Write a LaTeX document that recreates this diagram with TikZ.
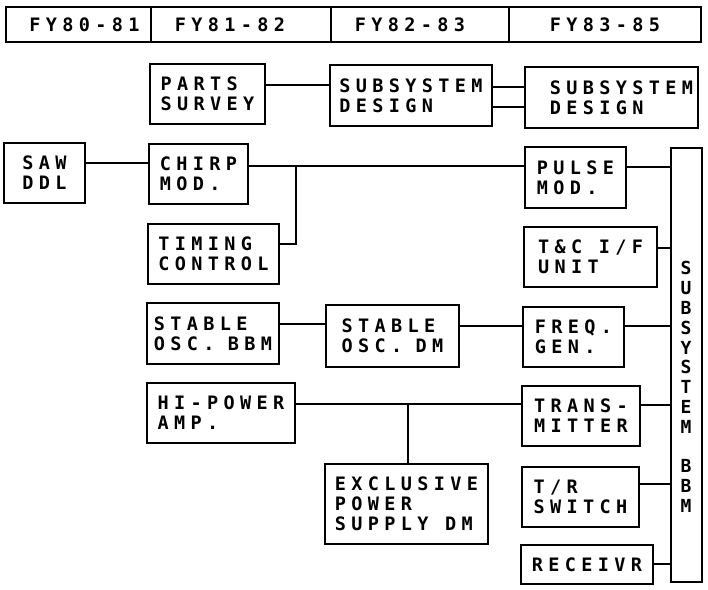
\documentclass[tikz,border=0pt]{standalone}
\usepackage{fontspec}
\newfontfamily\boxfont[LetterSpace=29]{DejaVu Sans Mono}
\newfontfamily\barfont{DejaVu Sans Mono}
\newcommand\bx[6]{\node[box, minimum width={(#4-#2)*1pt}, minimum height={(#5-#3)*1pt}] (#1) at ({(#2+#4)/2},{(#3+#5)/2}) {#6};}
\newcommand\hd[4]{\node[hdr, minimum width={(#3-#2)*1pt}, minimum height=35pt] (#1) at ({(#2+#3)/2},24.5) {#4};}
\begin{document}
\begin{tikzpicture}[x=1pt,y=-1pt,
  box/.style={draw, line width=1.6pt, rectangle, inner sep=0pt, align=left,
    font=\boxfont\bfseries\fontsize{18.5}{20}\selectfont},
  hdr/.style={draw, line width=1.6pt, rectangle, inner sep=0pt,
    font=\boxfont\bfseries\fontsize{18.5}{20}\selectfont},
  link/.style={line width=1.5pt}]
\useasboundingbox (0,0) rectangle (708,589);
% header
\hd{h1}{6}{151}{\hspace*{12pt}FY80-81}
\hd{h2}{151}{331}{FY81-82\hspace*{22pt}}
\hd{h3}{331}{509}{FY82-83\hspace*{20pt}}
\hd{h4}{509}{701}{FY83-85}
% boxes
\bx{parts}{150}{64}{265}{124}{PARTS\\SURVEY}
\bx{sd1}{330}{65}{492}{126}{SUBSYSTEM\\DESIGN}
\bx{sd2}{525}{67}{698}{128}{\hspace*{20pt}SUBSYSTEM\\\hspace*{20pt}DESIGN}
\bx{saw}{4}{143}{85}{203}{SAW\\DDL}
\bx{chirp}{149}{144}{248}{204}{CHIRP\\MOD.}
\bx{pulse}{525}{147}{626}{208}{PULSE\\MOD.}
\bx{timing}{148}{224}{279}{284}{TIMING\\CONTROL}
\bx{tc}{524}{227}{657}{287}{T\&C I/F\\UNIT}
\bx{stab1}{147}{303}{279}{364}{STABLE\\OSC.\kern-3pt{} BBM}
\bx{stab2}{326}{305}{459}{367}{STABLE\\OSC.\kern-3pt{} DM}
\bx{freq}{523}{307}{624}{367}{FREQ.\\GEN.}
\bx{hipow}{147}{383}{295}{443}{HI-POWER\\AMP.}
\bx{trans}{522}{386}{640}{446}{TRANS-\\MITTER}
\bx{excl}{325}{464}{488}{544}{EXCLUSIVE\\POWER\\SUPPLY DM}
\bx{tr}{522}{467}{639}{527}{T/R\\SWITCH}
\bx{recv}{521}{545}{653}{584}{RECEIVR}
\node[draw, line width=1.6pt, rectangle, inner sep=0pt, minimum width=31pt, minimum height=434pt] (bar) at (686.5,365) {};
\node[inner sep=0pt, align=center, font=\barfont\bfseries\fontsize{18}{19.8}\selectfont] (bartxt) at (686,387) {S\\U\\B\\S\\Y\\S\\T\\E\\M\\\mbox{}\\B\\B\\M};
% connectors
\draw[link] (parts.east |- 0,85) -- (sd1.west |- 0,85);
\draw[link] (sd1.east |- 0,87) -- (sd2.west |- 0,87);
\draw[link] (sd1.east |- 0,107) -- (sd2.west |- 0,107);
\draw[link] (saw.east |- 0,163) -- (chirp.west |- 0,163);
\draw[link] (chirp.east |- 0,166) -- (pulse.west |- 0,166);
\coordinate (j1) at (296,166);
\draw[link] (j1) |- (timing.east |- 0,244);
\draw[link] (pulse.east |- 0,167) -- (bar.west |- 0,167);
\draw[link] (tc.east |- 0,248) -- (bar.west |- 0,248);
\draw[link] (stab1.east |- 0,324) -- (stab2.west |- 0,324);
\draw[link] (stab2.east |- 0,326) -- (freq.west |- 0,326);
\draw[link] (freq.east |- 0,326) -- (bar.west |- 0,326);
\draw[link] (hipow.east |- 0,404) -- (trans.west |- 0,404);
\coordinate (j2) at (408,404);
\draw[link] (j2) -- (j2 |- excl.north);
\draw[link] (trans.east |- 0,405) -- (bar.west |- 0,405);
\draw[link] (tr.east |- 0,484) -- (bar.west |- 0,484);
\draw[link] (recv.east |- 0,564) -- (bar.west |- 0,564);
\end{tikzpicture}
\end{document}
